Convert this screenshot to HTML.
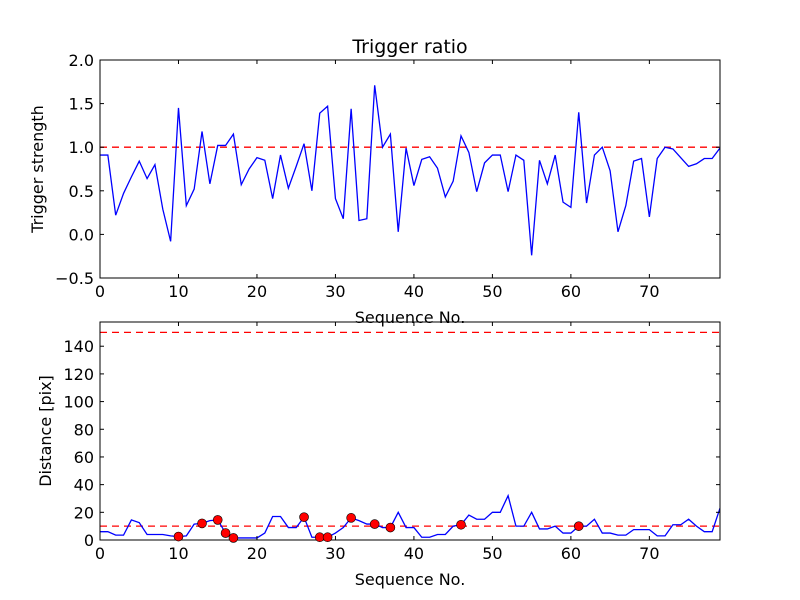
<!DOCTYPE html>
<html><head><meta charset="utf-8"><style>
body{margin:0;background:#fff}
svg{display:block;font-family:"DejaVu Sans","Liberation Sans",sans-serif}
</style></head><body>
<svg id="c" width="800" height="600"></svg>
<script>
const seqTop=[0.91,0.91,0.22,0.47,0.66,0.84,0.64,0.80,0.29,-0.08,1.45,0.33,0.52,1.18,0.58,1.02,1.02,1.15,0.57,0.75,0.88,0.85,0.41,0.91,0.53,0.78,1.04,0.50,1.39,1.47,0.41,0.18,1.44,0.16,0.18,1.71,1.00,1.15,0.03,0.99,0.56,0.86,0.89,0.76,0.43,0.61,1.13,0.94,0.49,0.82,0.91,0.91,0.49,0.91,0.85,-0.24,0.85,0.58,0.91,0.37,0.31,1.40,0.36,0.91,1.00,0.73,0.03,0.33,0.84,0.87,0.20,0.87,1.00,0.98,0.88,0.78,0.81,0.87,0.87,0.99];
const seqBot=[6,6,3.5,3.5,14.5,12.5,4,4,4,3,2.5,3,11.5,12,14,14.5,5,1.5,1.5,1.5,1.5,5,17,17,9,9,16.5,2,2,2,5,9,16,14,11.5,11.5,9,9,20,9,9,2,2,4,4,10,11,18,15,15,20,20,32,10,10,20,8,8,10,5,5,10,10,15,5,5,3.5,3.5,7.5,7.5,7.5,3,3,11,11,15,10,6,6,23];
const markerIdx=[10,13,15,16,17,26,28,29,32,35,37,46,61];
const topTicksY=[-0.5,0.0,0.5,1.0,1.5,2.0];
const botTicksY=[0,20,40,60,80,100,120,140];
const ticksX=[0,10,20,30,40,50,60,70];
const topThreshold=1.0, botThresholds=[10,150];
const NS='http://www.w3.org/2000/svg';
const svg=document.getElementById('c');
function mk(t,a,p){const e=document.createElementNS(NS,t);for(const k in a)e.setAttribute(k,a[k]);(p||svg).appendChild(e);return e;}
function panel(name,y0,y1,ymin,ymax,yt,ylab,data,thr,fmt,title){
  const L=100,R=720;
  const g=mk('g',{});
  
  
  const sx=v=>L+(R-L)*v/79, sy=v=>y1-(y1-y0)*(v-ymin)/(ymax-ymin);
  const cp='clip-'+name;
  const cd=mk('clipPath',{id:cp},g);mk('rect',{x:L,y:y0,width:R-L,height:y1-y0},cd);
  thr.forEach(t=>{const l=mk('line',{x1:L,x2:R,y1:sy(t),y2:sy(t),stroke:'#f00','stroke-dasharray':'7,5','stroke-width':1.3,'clip-path':`url(#${cp})`},g);
    });
  const pl=mk('polyline',{points:data.map((v,i)=>sx(i)+','+sy(v)).join(' '),fill:'none',stroke:'#00f','stroke-width':1.3,'clip-path':`url(#${cp})`},g);
  
  mk('rect',{x:L,y:y0,width:R-L,height:y1-y0,fill:'none',stroke:'#000','stroke-width':1},g);
  ticksX.forEach(t=>{const x=sx(t);mk('line',{x1:x,x2:x,y1:y1,y2:y1-4,stroke:'#000'},g);mk('line',{x1:x,x2:x,y1:y0,y2:y0+4,stroke:'#000'},g);
    const tx=mk('text',{x:x,y:y1+19,'text-anchor':'middle','font-size':16},g);tx.textContent=t;
    });
  yt.forEach(t=>{const y=sy(t);mk('line',{x1:L,x2:L+4,y1:y,y2:y,stroke:'#000'},g);mk('line',{x1:R,x2:R-4,y1:y,y2:y,stroke:'#000'},g);
    const tx=mk('text',{x:L-6,y:y+6,'text-anchor':'end','font-size':16},g);tx.textContent=fmt(t).replace('-','\u2212');
    });
  const xl=mk('text',{x:410,y:y1+45,'text-anchor':'middle','font-size':16},g);xl.textContent='Sequence No.';
  
  const yl=mk('text',{x:0,y:0,'text-anchor':'middle','font-size':16,transform:`translate(${ylab[1]},${(y0+y1)/2}) rotate(-90)`},g);yl.textContent=ylab[0];
  
  if(title){const tt=mk('text',{x:410,y:53,'text-anchor':'middle','font-size':19},g);tt.textContent=title;
    }
  return {sx,sy,g};
}
panel('top-panel',60,278,-0.5,2.0,topTicksY,['Trigger strength',43],seqTop,[topThreshold],v=>v.toFixed(1),'Trigger ratio');
const b=panel('bottom-panel',322,540,0,157.5,botTicksY,['Distance [pix]',51],seqBot,botThresholds,v=>String(v),null);
markerIdx.forEach(i=>{const c=mk('circle',{cx:b.sx(i),cy:b.sy(seqBot[i]),r:4.5,fill:'#f00',stroke:'#000','stroke-width':0.6},b.g);
  });
</script>
</body></html>
